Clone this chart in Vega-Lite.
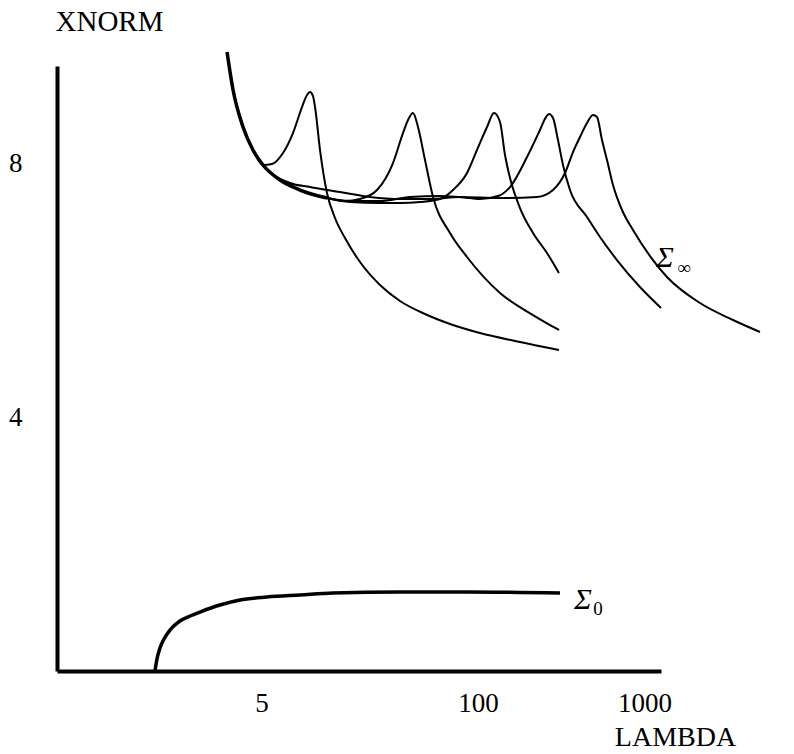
{
  "$schema": "https://vega.github.io/schema/vega-lite/v6.json",
  "autosize": "none",
  "width": 604,
  "height": 605,
  "padding": {"left": 57, "top": 66, "right": 133, "bottom": 83},
  "background": "white",
  "config": {
    "view": {"stroke": null},
    "font": "Liberation Serif"
  },
  "datasets": {
    "curves": [
      {"s": "c1", "lambda": 3.11, "xnorm": 9.748},
      {"s": "c1", "lambda": 3.38, "xnorm": 9.150},
      {"s": "c1", "lambda": 3.88, "xnorm": 8.567},
      {"s": "c1", "lambda": 4.45, "xnorm": 8.205},
      {"s": "c1", "lambda": 5.11, "xnorm": 7.969},
      {"s": "c1", "lambda": 5.79, "xnorm": 7.984},
      {"s": "c1", "lambda": 6.74, "xnorm": 8.157},
      {"s": "c1", "lambda": 7.74, "xnorm": 8.472},
      {"s": "c1", "lambda": 8.77, "xnorm": 8.882},
      {"s": "c1", "lambda": 9.40, "xnorm": 9.071},
      {"s": "c1", "lambda": 9.79, "xnorm": 9.118},
      {"s": "c1", "lambda": 10.21, "xnorm": 9.055},
      {"s": "c1", "lambda": 10.50, "xnorm": 8.882},
      {"s": "c1", "lambda": 11.25, "xnorm": 8.205},
      {"s": "c1", "lambda": 12.39, "xnorm": 7.528},
      {"s": "c1", "lambda": 13.84, "xnorm": 7.134},
      {"s": "c1", "lambda": 15.89, "xnorm": 6.819},
      {"s": "c1", "lambda": 19.56, "xnorm": 6.441},
      {"s": "c1", "lambda": 25.79, "xnorm": 6.079},
      {"s": "c1", "lambda": 34.0, "xnorm": 5.827},
      {"s": "c1", "lambda": 48.0, "xnorm": 5.622},
      {"s": "c1", "lambda": 67.9, "xnorm": 5.465},
      {"s": "c1", "lambda": 102.8, "xnorm": 5.323},
      {"s": "c1", "lambda": 178.8, "xnorm": 5.181},
      {"s": "c1", "lambda": 306.5, "xnorm": 5.055},

      {"s": "c2", "lambda": 3.11, "xnorm": 9.748},
      {"s": "c2", "lambda": 3.38, "xnorm": 9.150},
      {"s": "c2", "lambda": 3.88, "xnorm": 8.567},
      {"s": "c2", "lambda": 4.45, "xnorm": 8.205},
      {"s": "c2", "lambda": 5.11, "xnorm": 7.969},
      {"s": "c2", "lambda": 6.47, "xnorm": 7.732},
      {"s": "c2", "lambda": 8.53, "xnorm": 7.575},
      {"s": "c2", "lambda": 12.39, "xnorm": 7.449},
      {"s": "c2", "lambda": 15.89, "xnorm": 7.402},
      {"s": "c2", "lambda": 19.56, "xnorm": 7.433},
      {"s": "c2", "lambda": 24.74, "xnorm": 7.575},
      {"s": "c2", "lambda": 30.87, "xnorm": 8.0},
      {"s": "c2", "lambda": 35.44, "xnorm": 8.472},
      {"s": "c2", "lambda": 38.51, "xnorm": 8.709},
      {"s": "c2", "lambda": 40.70, "xnorm": 8.787},
      {"s": "c2", "lambda": 43.62, "xnorm": 8.567},
      {"s": "c2", "lambda": 48.05, "xnorm": 8.047},
      {"s": "c2", "lambda": 53.7, "xnorm": 7.465},
      {"s": "c2", "lambda": 67.9, "xnorm": 6.898},
      {"s": "c2", "lambda": 85.9, "xnorm": 6.520},
      {"s": "c2", "lambda": 135.6, "xnorm": 5.953},
      {"s": "c2", "lambda": 214.0, "xnorm": 5.606},
      {"s": "c2", "lambda": 306.5, "xnorm": 5.370},

      {"s": "c3", "lambda": 3.11, "xnorm": 9.748},
      {"s": "c3", "lambda": 3.38, "xnorm": 9.150},
      {"s": "c3", "lambda": 3.88, "xnorm": 8.567},
      {"s": "c3", "lambda": 4.45, "xnorm": 8.205},
      {"s": "c3", "lambda": 5.11, "xnorm": 7.969},
      {"s": "c3", "lambda": 6.47, "xnorm": 7.732},
      {"s": "c3", "lambda": 8.53, "xnorm": 7.575},
      {"s": "c3", "lambda": 12.39, "xnorm": 7.449},
      {"s": "c3", "lambda": 17.03, "xnorm": 7.386},
      {"s": "c3", "lambda": 25.79, "xnorm": 7.370},
      {"s": "c3", "lambda": 34.0, "xnorm": 7.370},
      {"s": "c3", "lambda": 44.9, "xnorm": 7.386},
      {"s": "c3", "lambda": 59.2, "xnorm": 7.433},
      {"s": "c3", "lambda": 70.8, "xnorm": 7.575},
      {"s": "c3", "lambda": 85.9, "xnorm": 7.843},
      {"s": "c3", "lambda": 98.6, "xnorm": 8.205},
      {"s": "c3", "lambda": 113.3, "xnorm": 8.567},
      {"s": "c3", "lambda": 124.8, "xnorm": 8.787},
      {"s": "c3", "lambda": 135.6, "xnorm": 8.646},
      {"s": "c3", "lambda": 145.3, "xnorm": 8.126},
      {"s": "c3", "lambda": 155.7, "xnorm": 7.764},
      {"s": "c3", "lambda": 178.8, "xnorm": 7.291},
      {"s": "c3", "lambda": 214.0, "xnorm": 6.898},
      {"s": "c3", "lambda": 259.7, "xnorm": 6.583},
      {"s": "c3", "lambda": 306.5, "xnorm": 6.268},

      {"s": "c4", "lambda": 3.11, "xnorm": 9.748},
      {"s": "c4", "lambda": 3.38, "xnorm": 9.150},
      {"s": "c4", "lambda": 3.88, "xnorm": 8.567},
      {"s": "c4", "lambda": 4.45, "xnorm": 8.205},
      {"s": "c4", "lambda": 5.11, "xnorm": 7.969},
      {"s": "c4", "lambda": 6.47, "xnorm": 7.732},
      {"s": "c4", "lambda": 8.53, "xnorm": 7.575},
      {"s": "c4", "lambda": 12.39, "xnorm": 7.449},
      {"s": "c4", "lambda": 17.03, "xnorm": 7.402},
      {"s": "c4", "lambda": 25.79, "xnorm": 7.402},
      {"s": "c4", "lambda": 39.0, "xnorm": 7.465},
      {"s": "c4", "lambda": 59.2, "xnorm": 7.480},
      {"s": "c4", "lambda": 89.5, "xnorm": 7.449},
      {"s": "c4", "lambda": 102.8, "xnorm": 7.433},
      {"s": "c4", "lambda": 131.9, "xnorm": 7.480},
      {"s": "c4", "lambda": 155.7, "xnorm": 7.622},
      {"s": "c4", "lambda": 197.0, "xnorm": 8.094},
      {"s": "c4", "lambda": 235.7, "xnorm": 8.520},
      {"s": "c4", "lambda": 256.1, "xnorm": 8.724},
      {"s": "c4", "lambda": 267.0, "xnorm": 8.772},
      {"s": "c4", "lambda": 282.2, "xnorm": 8.709},
      {"s": "c4", "lambda": 302.3, "xnorm": 8.362},
      {"s": "c4", "lambda": 324.0, "xnorm": 7.969},
      {"s": "c4", "lambda": 356.9, "xnorm": 7.575},
      {"s": "c4", "lambda": 451.5, "xnorm": 7.150},
      {"s": "c4", "lambda": 540.4, "xnorm": 6.835},
      {"s": "c4", "lambda": 683.5, "xnorm": 6.472},
      {"s": "c4", "lambda": 939.5, "xnorm": 6.047},
      {"s": "c4", "lambda": 1256.6, "xnorm": 5.717},

      {"s": "c5", "lambda": 3.11, "xnorm": 9.748},
      {"s": "c5", "lambda": 3.38, "xnorm": 9.150},
      {"s": "c5", "lambda": 3.88, "xnorm": 8.567},
      {"s": "c5", "lambda": 4.45, "xnorm": 8.205},
      {"s": "c5", "lambda": 5.11, "xnorm": 7.969},
      {"s": "c5", "lambda": 7.43, "xnorm": 7.685},
      {"s": "c5", "lambda": 9.79, "xnorm": 7.622},
      {"s": "c5", "lambda": 14.84, "xnorm": 7.543},
      {"s": "c5", "lambda": 22.46, "xnorm": 7.465},
      {"s": "c5", "lambda": 34.0, "xnorm": 7.433},
      {"s": "c5", "lambda": 51.5, "xnorm": 7.433},
      {"s": "c5", "lambda": 78.0, "xnorm": 7.465},
      {"s": "c5", "lambda": 135.6, "xnorm": 7.449},
      {"s": "c5", "lambda": 226.1, "xnorm": 7.465},
      {"s": "c5", "lambda": 282.2, "xnorm": 7.575},
      {"s": "c5", "lambda": 333.1, "xnorm": 7.843},
      {"s": "c5", "lambda": 372.1, "xnorm": 8.173},
      {"s": "c5", "lambda": 409.8, "xnorm": 8.409},
      {"s": "c5", "lambda": 451.5, "xnorm": 8.630},
      {"s": "c5", "lambda": 490.6, "xnorm": 8.756},
      {"s": "c5", "lambda": 518.5, "xnorm": 8.724},
      {"s": "c5", "lambda": 555.6, "xnorm": 8.362},
      {"s": "c5", "lambda": 595.4, "xnorm": 8.047},
      {"s": "c5", "lambda": 647.0, "xnorm": 7.654},
      {"s": "c5", "lambda": 732.7, "xnorm": 7.260},
      {"s": "c5", "lambda": 853.0, "xnorm": 6.945},
      {"s": "c5", "lambda": 1079, "xnorm": 6.535},
      {"s": "c5", "lambda": 1365, "xnorm": 6.205},
      {"s": "c5", "lambda": 2154, "xnorm": 5.795},
      {"s": "c5", "lambda": 3401, "xnorm": 5.528},
      {"s": "c5", "lambda": 4940, "xnorm": 5.339}
    ],
    "sigma0": [
      {"lambda": 1.148, "xnorm": 0},
      {"lambda": 1.18, "xnorm": 0.189},
      {"lambda": 1.23, "xnorm": 0.362},
      {"lambda": 1.30, "xnorm": 0.504},
      {"lambda": 1.413, "xnorm": 0.646},
      {"lambda": 1.62, "xnorm": 0.787},
      {"lambda": 1.864, "xnorm": 0.866},
      {"lambda": 2.14, "xnorm": 0.929},
      {"lambda": 2.82, "xnorm": 1.039},
      {"lambda": 3.72, "xnorm": 1.118},
      {"lambda": 5.40, "xnorm": 1.165},
      {"lambda": 8.53, "xnorm": 1.197},
      {"lambda": 13.46, "xnorm": 1.228},
      {"lambda": 34.0, "xnorm": 1.244},
      {"lambda": 85.9, "xnorm": 1.244},
      {"lambda": 310.8, "xnorm": 1.228}
    ],
    "sigmas": [
      {"label": "Σ", "lambda": 1328, "xnorm": 6.504},
      {"label": "Σ", "lambda": 427.2, "xnorm": 1.118}
    ],
    "subs": [
      {"label": "∞", "lambda": 1727, "xnorm": 6.346},
      {"label": "0", "lambda": 525.7, "xnorm": 0.976}
    ]
  },
  "encoding": {
    "x": {
      "field": "lambda",
      "type": "quantitative",
      "scale": {"type": "log", "domain": [0.2961, 1256.5], "nice": false},
      "axis": {
        "values": [5, 100, 1000],
        "format": "d",
        "domainWidth": 4,
        "domainColor": "black",
        "ticks": false,
        "grid": false,
        "labelFont": "Liberation Serif",
        "labelFontSize": 27,
        "labelColor": "black",
        "labelPadding": 19,
        "labelFlush": false,
        "labelOverlap": false,
        "title": "LAMBDA",
        "titleFont": "Liberation Serif",
        "titleFontSize": 28,
        "titleFontWeight": "normal",
        "titleColor": "black",
        "titleAlign": "center",
        "titleBaseline": "alphabetic",
        "titleX": 618,
        "titleY": 74
      }
    },
    "y": {
      "field": "xnorm",
      "type": "quantitative",
      "scale": {"domain": [0, 9.528], "nice": false, "zero": false},
      "axis": {
        "values": [4, 8],
        "domainWidth": 4,
        "domainColor": "black",
        "ticks": false,
        "grid": false,
        "labelFont": "Liberation Serif",
        "labelFontSize": 27,
        "labelColor": "black",
        "labelPadding": 35,
        "title": "XNORM",
        "titleFont": "Liberation Serif",
        "titleFontSize": 29,
        "titleFontWeight": "normal",
        "titleColor": "black",
        "titleAngle": 0,
        "titleAlign": "left",
        "titleBaseline": "alphabetic",
        "titleX": -2,
        "titleY": -36
      }
    }
  },
  "layer": [
    {
      "data": {"name": "curves"},
      "mark": {"type": "line", "color": "black", "strokeWidth": 2, "interpolate": "monotone"},
      "encoding": {"detail": {"field": "s", "type": "nominal"}}
    },
    {
      "data": {"name": "curves"},
      "transform": [{"filter": "datum.s == 'c2' && datum.lambda <= 12.4"}],
      "mark": {"type": "line", "color": "black", "strokeWidth": 3.5, "interpolate": "monotone"},
      "encoding": {}
    },
    {
      "data": {"name": "sigma0"},
      "mark": {"type": "line", "color": "black", "strokeWidth": 3.5, "interpolate": "monotone"},
      "encoding": {}
    },
    {
      "data": {"name": "sigmas"},
      "mark": {"type": "text", "font": "Liberation Serif", "fontSize": 30, "fontStyle": "italic", "color": "black", "align": "center", "baseline": "middle"},
      "encoding": {"text": {"field": "label"}}
    },
    {
      "data": {"name": "subs"},
      "mark": {"type": "text", "font": "Liberation Serif", "fontSize": 19, "color": "black", "align": "center", "baseline": "middle"},
      "encoding": {"text": {"field": "label"}}
    }
  ]
}
